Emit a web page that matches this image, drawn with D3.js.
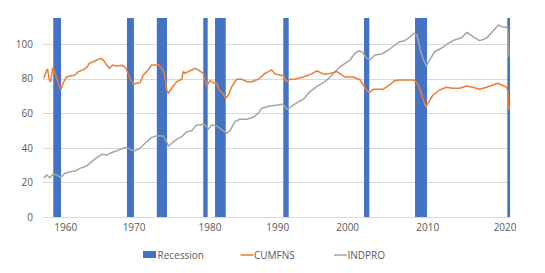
<!DOCTYPE html>
<html>
<head>
<meta charset="utf-8">
<script src="https://cdn.jsdelivr.net/npm/d3@7/dist/d3.min.js"></script>
<style>
  html, body { margin: 0; padding: 0; background: #fff; }
  svg text { font-family: "Open Sans", "Liberation Sans", sans-serif; fill: #595959; }
</style>
</head>
<body>
<svg id="chart" width="545" height="273"></svg>
<script>
// ---- data (year as decimal, value) ----
const cumfnsYears = [1959.0,1959.38,1959.51,1959.72,1959.91,1960.17,1960.34,1960.7,1961.13,1961.27,1961.57,1962.02,1962.45,1963.11,1963.55,1964.2,1964.73,1964.99,1965.52,1966.18,1966.54,1966.93,1967.29,1967.63,1968.08,1968.61,1969.27,1969.7,1969.93,1970.36,1970.8,1971.15,1971.68,1972.11,1972.56,1973.22,1973.88,1974.09,1974.54,1974.84,1975.2,1975.41,1975.86,1976.52,1977.18,1977.39,1977.61,1978.27,1978.93,1979.36,1980.02,1980.47,1980.91,1981.34,1981.79,1982.13,1982.58,1982.98,1983.32,1983.77,1984.43,1985.09,1985.74,1986.4,1987.27,1988.16,1989.04,1989.48,1990.13,1990.66,1990.93,1991.45,1992.11,1993.21,1994.31,1994.97,1995.84,1996.5,1997.61,1998.27,1998.7,1999.8,2000.46,2000.62,2001.12,2001.28,2001.85,2002.43,2002.6,2003.32,2003.7,2004.58,2005.24,2005.9,2006.79,2007.66,2008.1,2008.45,2008.9,2009.33,2009.63,2010.29,2011.17,2012.06,2012.93,2013.81,2014.7,2015.57,2016.45,2017.33,2018.25,2018.78,2019.36,2020.02,2020.17,2020.3];
const cumfnsValues = [80.2,85,85.3,79.2,78.2,85.9,85,80.2,74.4,73.8,77.6,81.1,81.5,82.1,84,85,86.7,88.8,89.7,91.1,91.7,90.2,87.8,85.9,87.8,87.3,87.7,86.7,85,80.2,76.3,77.3,77.6,82.1,84,87.8,87.8,88.2,85.9,84,73.4,71.5,74.4,78.2,79.6,84,83,84.5,85.9,85,83,75.7,78.8,77.6,77.3,73.4,71.5,68.6,70.5,75.3,79.6,79.6,78.2,78.2,79.6,83,85,82.7,82.1,81.5,78.2,79.6,79.8,80.9,82.7,84.5,82.7,82.7,84,82.1,80.9,80.9,79.6,79.6,76.3,75,71.8,73.8,73.8,73.8,73.8,76.3,78.8,79.2,79.2,79.2,78.2,75.3,69.5,63.7,65.7,70.5,73.4,75,74.4,74.4,75.7,75,73.8,75,76.3,77.3,76.3,75,73,61.8];

const indproYears = [1959.0,1959.38,1959.81,1960.25,1960.7,1961.23,1961.79,1962.45,1963.11,1963.77,1964.65,1965.31,1965.97,1966.63,1967.29,1967.72,1968.61,1969.48,1969.93,1970.58,1971.02,1971.68,1972.34,1973.22,1973.88,1974.75,1975.2,1975.41,1975.86,1976.52,1977.18,1977.84,1978.49,1979.15,1979.59,1980.02,1980.25,1980.68,1981.13,1981.79,1982.45,1983.11,1983.54,1984.2,1984.86,1985.74,1986.61,1987.27,1987.72,1988.81,1989.91,1990.57,1991.02,1991.68,1992.55,1993.21,1994.09,1994.97,1995.84,1996.72,1997.38,1998.04,1998.7,1999.36,2000.02,2000.55,2001.03,2001.56,2001.99,2002.65,2003.32,2003.54,2004.41,2005.29,2005.9,2006.56,2007.22,2007.79,2008.18,2008.63,2008.97,2009.42,2009.85,2010.51,2011.4,2012.27,2013.15,2014.04,2014.78,2015.57,2016.45,2017.33,2018.25,2018.91,2019.36,2020.02,2020.17,2020.3];
const indproValues = [22.4,24.3,22.7,24.8,24.3,22.9,25.3,26.2,26.6,28.1,29.5,32,34.3,36.2,35.8,36.8,38.3,39.7,40.3,38.7,38.3,39.7,42.6,46,46.8,46.8,43.5,41,42.6,44.9,46.4,49.3,49.9,53.2,53.2,53.7,53.2,50.7,53.2,52.6,50.3,48.4,49.9,55.1,56.5,56.5,57.6,59.9,62.8,64.1,64.7,65.3,62.2,64.1,66.6,68,72.4,75.3,77.6,80.7,84,86.7,88.8,90.7,94.6,96.1,95.2,91.7,90.7,93.6,94,94.2,96.5,99.4,101.3,101.9,103.8,106.2,105.2,96.5,91.7,87.3,90.7,95.5,97.5,100.3,102.3,103.6,106.7,104.2,101.9,103.3,107.7,111,110,109.6,108.5,92.6];

const recessionStarts = [1960.25,1969.96,1973.9,1980.02,1981.57,1990.57,2001.21,2007.93,2020.1];
const recessionEnds   = [1961.27,1970.88,1975.24,1980.6,1982.98,1991.28,2001.91,2009.51,2020.45];

const yTicks = [0,20,40,60,80,100];
const xTickPositions = [1961.9,1970.9,1980.9,1989.83,1999.05,2009.6,2019.8];
const xTickLabels = ["1960","1970","1980","1990","2000","2010","2020"];

const seriesNames = ["Recession","CUMFNS","INDPRO"];
const colors = {Recession:"#4472C4", CUMFNS:"#ED7D31", INDPRO:"#A5A5A5"};

// ---- chart ----
const svg = d3.select("#chart");
const x = d3.scaleLinear().domain([1959.0, 2020.45]).range([43.8, 510]);
const y = d3.scaleLinear().domain([0, 115]).range([217, 18]);

// gridlines
svg.append("g").selectAll("line").data(yTicks).join("line")
  .attr("x1", 43).attr("x2", 510)
  .attr("y1", d => Math.round(y(d)) + 0.5).attr("y2", d => Math.round(y(d)) + 0.5)
  .attr("stroke", "#D9D9D9").attr("stroke-width", 1);

// y labels
svg.append("g").selectAll("text").data(yTicks).join("text")
  .attr("x", 33).attr("y", d => y(d) + 3.8)
  .attr("text-anchor", "end").attr("font-size", "10px")
  .text(d => d);

// recession bars
const rec = recessionStarts.map((s, i) => ({s, e: recessionEnds[i]}));
svg.append("g").selectAll("rect").data(rec).join("rect")
  .attr("x", d => x(d.s)).attr("width", d => x(d.e) - x(d.s))
  .attr("y", y(115)).attr("height", y(0) - y(115))
  .attr("fill", colors.Recession);

// lines
const line = d3.line().x(d => x(d[0])).y(d => y(d[1]));
const cumfns = cumfnsYears.map((t, i) => [t, cumfnsValues[i]]);
const indpro = indproYears.map((t, i) => [t, indproValues[i]]);
svg.append("path").datum(indpro).attr("d", line)
  .attr("fill", "none").attr("stroke", colors.INDPRO).attr("stroke-width", 1.5).attr("stroke-linejoin", "round");
svg.append("path").datum(cumfns).attr("d", line)
  .attr("fill", "none").attr("stroke", colors.CUMFNS).attr("stroke-width", 1.5).attr("stroke-linejoin", "round");

// x labels
svg.append("g").selectAll("text").data(xTickPositions).join("text")
  .attr("x", d => x(d)).attr("y", 231)
  .attr("text-anchor", "middle").attr("font-size", "10px")
  .text((d, i) => xTickLabels[i]);

// legend
const lg = svg.append("g");
lg.append("rect").attr("x", 143).attr("y", 251).attr("width", 13).attr("height", 7).attr("fill", colors.Recession);
lg.append("text").attr("x", 157.5).attr("y", 258.5).attr("font-size", "10px").text(seriesNames[0]);
lg.append("line").attr("x1", 240.5).attr("x2", 253.5).attr("y1", 255).attr("y2", 255)
  .attr("stroke", colors.CUMFNS).attr("stroke-width", 1.5);
lg.append("text").attr("x", 254).attr("y", 258.5).attr("font-size", "10px").text(seriesNames[1]);
lg.append("line").attr("x1", 334).attr("x2", 347).attr("y1", 255).attr("y2", 255)
  .attr("stroke", colors.INDPRO).attr("stroke-width", 1.5);
lg.append("text").attr("x", 347.5).attr("y", 258.5).attr("font-size", "10px").text(seriesNames[2]);
</script>
</body>
</html>
